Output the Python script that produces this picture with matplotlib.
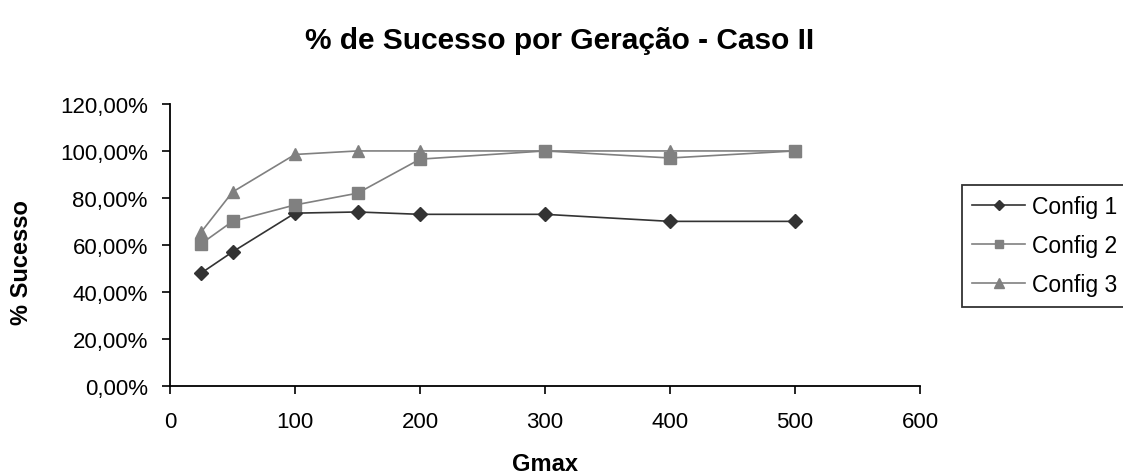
import matplotlib
matplotlib.use('Agg')
import matplotlib.pyplot as plt
from matplotlib.ticker import FuncFormatter

plt.rcParams['font.family'] = ['Liberation Sans', 'DejaVu Sans']

# success rate (%) per Gmax value
gmax = [25, 50, 100, 150, 200, 300, 400, 500]
config1 = [48, 57, 73.5, 74, 73, 73, 70, 70]
config2 = [60.5, 70, 77, 82, 96.5, 100, 97, 100]
config3 = [65.5, 82.5, 98.5, 100, 100, 100, 100, 100]
labels = ['Config 1', 'Config 2', 'Config 3']

fig = plt.figure(figsize=(11.23, 4.77), dpi=100)
ax = fig.add_axes([0.1514, 0.1893, 0.6678, 0.5906])

ax.plot(gmax, config1, color='#333333', lw=1.2, marker='D', markersize=7, label=labels[0])
ax.plot(gmax, config2, color='#808080', lw=1.2, marker='s', markersize=8.5, label=labels[1])
ax.plot(gmax, config3, color='#808080', lw=1.2, marker='^', markersize=9, label=labels[2])

ax.set_xlim(0, 600)
ax.set_ylim(0, 120)
ax.set_xticks(range(0, 601, 100))
ax.set_yticks(range(0, 121, 20))
ax.yaxis.set_major_formatter(FuncFormatter(lambda v, p: f'{v:.2f}%'.replace('.', ',')))

for s in ['top', 'right']:
    ax.spines[s].set_visible(False)
for s in ['left', 'bottom']:
    ax.spines[s].set_linewidth(1.3)
ax.tick_params(direction='out', length=6, width=1.2, labelsize=16)
ax.tick_params(axis='y', pad=10)
ax.tick_params(axis='x', pad=12)

ax.set_xlabel('Gmax', fontsize=17, fontweight='bold')
ax.xaxis.set_label_coords(0.5, -0.237)
ax.set_ylabel('% Sucesso', fontsize=17, fontweight='bold')
ax.yaxis.set_label_coords(-0.183, 0.44)
fig.text(0.498, 0.915, '% de Sucesso por Geração - Caso II', ha='center', va='center',
         fontsize=21.5, fontweight='bold')

leg = fig.legend(loc='upper left', bbox_to_anchor=(0.8566, 0.61), fontsize=16.5,
                 frameon=True, fancybox=False, edgecolor='black', borderaxespad=0,
                 handlelength=2.3, handletextpad=0.3, labelspacing=0.7, borderpad=0.45,
                 markerscale=0.75)
leg.get_frame().set_linewidth(1.3)

fig.savefig('out.png', dpi=100)
